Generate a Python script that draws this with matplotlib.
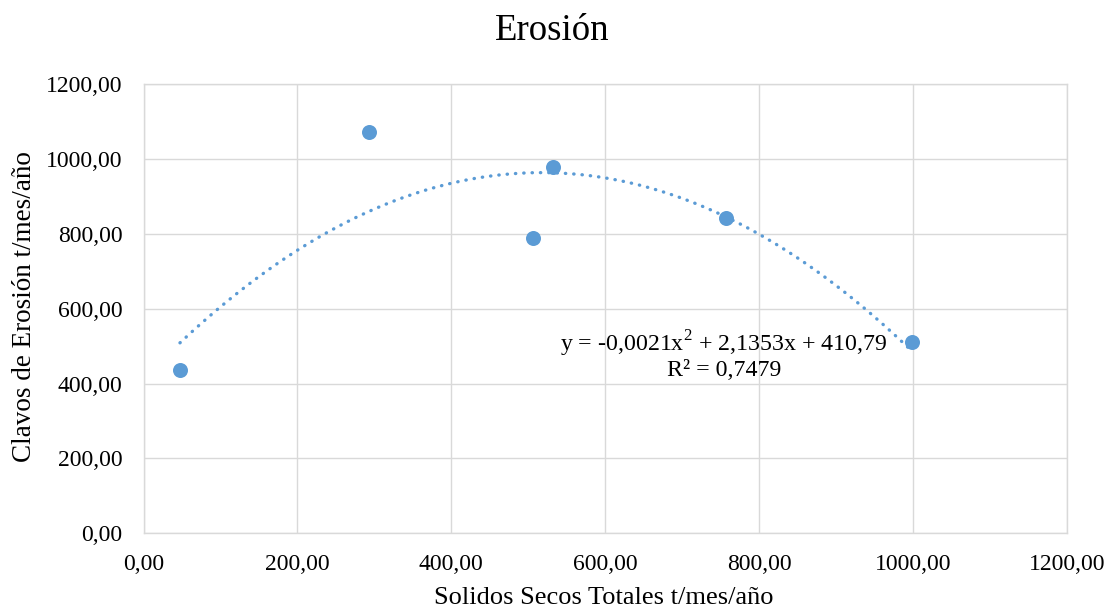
import numpy as np
import matplotlib
matplotlib.use("Agg")
import matplotlib.pyplot as plt
from matplotlib.ticker import FuncFormatter, MultipleLocator

# Solidos secos totales (t/mes/año) vs. clavos de erosión (t/mes/año)
solidos = [47.4, 293.5, 505.9, 532.7, 756.8, 998.5]
erosion = [436.2, 1071.0, 789.5, 977.5, 841.3, 511.7]

title = "Erosión"
xlabel = "Solidos Secos Totales t/mes/año"
ylabel = "Clavos de Erosión t/mes/año"
eq_text = "y = -0,0021x$^{2}$ + 2,1353x + 410,79\nR² = 0,7479"

blue = "#5B9BD5"
grid = "#D9D9D9"

plt.rcParams["font.family"] = ["Liberation Serif", "DejaVu Serif"]
plt.rcParams["mathtext.fontset"] = "custom"
plt.rcParams["mathtext.rm"] = "Liberation Serif"

fig = plt.figure(figsize=(11.09, 6.10), dpi=100)
ax = fig.add_axes([0.1294, 0.1257, 0.8325, 0.7366])

ax.set_xlim(0, 1200)
ax.set_ylim(0, 1200)
ax.xaxis.set_major_locator(MultipleLocator(200))
ax.yaxis.set_major_locator(MultipleLocator(200))
fmt = FuncFormatter(lambda v, p: f"{v:.2f}".replace(".", ","))
ax.xaxis.set_major_formatter(fmt)
ax.yaxis.set_major_formatter(fmt)

ax.grid(True, color=grid, linewidth=1.0)
ax.set_axisbelow(True)
for s in ax.spines.values():
    s.set_color(grid)
    s.set_linewidth(1.0)
ax.tick_params(length=0, labelsize=17, colors="black")
ax.tick_params(axis="x", pad=15)
ax.tick_params(axis="y", pad=15)

# Polynomial (order 2) trendline fitted over the data range
coef = np.polyfit(solidos, erosion, 2)
xs = np.linspace(min(solidos), max(solidos), 300)
ax.plot(xs, np.polyval(coef, xs), color=blue, linewidth=2.4,
        linestyle=(0, (0.1, 2.4)), dash_capstyle="round", zorder=2)

ax.plot(solidos, erosion, "o", color=blue, markersize=10.8,
        markeredgewidth=0, zorder=3)

# Trendline equation label, placed in axes-fraction coordinates
ax.text((724 - 143.5) / 923.2, (533.3 - 355) / 449.3, eq_text,
        transform=ax.transAxes, ha="center", va="center",
        fontsize=17.2, linespacing=1.05, zorder=4)

fig.text(552.5 / 1109, 1 - 31 / 610, title, ha="center", va="center", fontsize=26.5)
fig.text(604 / 1109, 1 - 598 / 610, xlabel, ha="center", va="center", fontsize=19)
fig.text(25 / 1109, 1 - 307 / 610, ylabel, ha="center", va="center",
         fontsize=19.5, rotation=90)

fig.savefig("out.png", dpi=100)
